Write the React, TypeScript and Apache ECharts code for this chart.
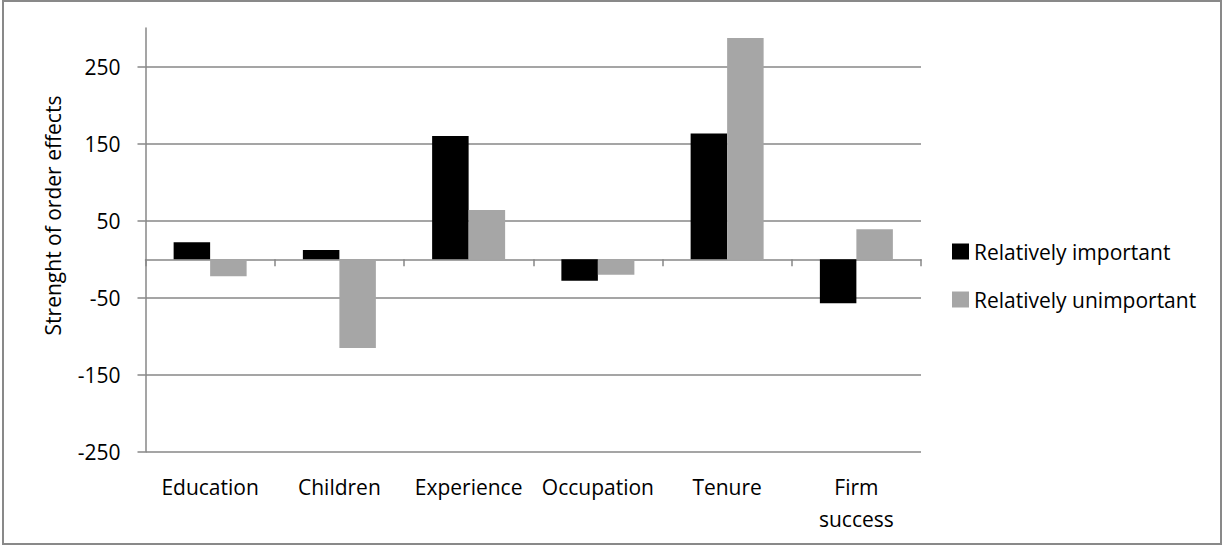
import React, { useEffect, useRef } from "react";
import * as echarts from "echarts";

const categories = ["Education", "Children", "Experience", "Occupation", "Tenure", "Firm success"];
const seriesNames = ["Relatively important", "Relatively unimportant"];
const importantValues = [22, 12, 160, -28, 163, -57];
const unimportantValues = [-22, -115, 64, -20, 287, 39];
const yTicks = [-250, -150, -50, 50, 150, 250];
const yMin = -250;
const yMax = 300;

const FONT = "Open Sans";
const GRID_COLOR = "#878787";

export default function App() {
  const ref = useRef<HTMLDivElement>(null);

  useEffect(() => {
    document.body.style.margin = "0";
    if (!ref.current) return;
    const chart = echarts.init(ref.current, undefined, { renderer: "svg" });
    chart.setOption({
      animation: false,
      textStyle: { fontFamily: FONT },
      grid: { left: 145.5, right: 301, top: 28, bottom: 94, containLabel: false },
      legend: {
        orient: "vertical",
        left: 952,
        top: 241,
        padding: 0,
        itemWidth: 17,
        itemHeight: 16,
        itemGap: 27,
        icon: "rect",
        textStyle: { fontFamily: FONT, fontSize: 21, color: "#000" },
        data: seriesNames,
      },
      xAxis: [
        {
          type: "category",
          data: categories,
          position: "bottom",
          axisLine: { show: true, onZero: true, lineStyle: { color: GRID_COLOR, width: 1.5 } },
          axisTick: { show: true, length: 7, alignWithLabel: false, interval: 0, lineStyle: { color: GRID_COLOR, width: 1.5 } },
          axisLabel: { show: false },
          splitLine: { show: false },
        },
        {
          type: "category",
          data: categories,
          position: "bottom",
          axisLine: { show: false, onZero: false },
          axisTick: { show: false },
          axisLabel: {
            show: true,
            interval: 0,
            fontFamily: FONT,
            fontSize: 21,
            color: "#000",
            margin: 19,
            lineHeight: 32,
            formatter: (v: string) => v.replace(" ", "\n"),
          },
          splitLine: { show: false },
        },
      ],
      yAxis: {
        type: "value",
        min: yMin,
        max: yMax,
        interval: 100,
        name: "Strenght of order effects",
        nameLocation: "middle",
        nameGap: 82,
        nameRotate: 90,
        nameTextStyle: { fontFamily: FONT, fontSize: 21, color: "#000", padding: [0, 0, 0, 49] },
        axisLine: { show: true, lineStyle: { color: GRID_COLOR, width: 1.5 } },
        axisTick: { show: true, length: 8, inside: false, customValues: yTicks, lineStyle: { color: GRID_COLOR, width: 1.5 } },
        axisLabel: { fontFamily: FONT, fontSize: 21, color: "#000", margin: 25, customValues: yTicks },
        splitLine: { show: true, lineStyle: { color: GRID_COLOR, width: 1.5 } },
      },
      series: [
        {
          name: seriesNames[0],
          type: "bar",
          data: importantValues,
          barWidth: 36.5,
          barGap: "0%",
          itemStyle: { color: "#000000" },
        },
        {
          name: seriesNames[1],
          type: "bar",
          data: unimportantValues,
          barWidth: 36.5,
          barGap: "0%",
          itemStyle: { color: "#A6A6A6" },
        },
      ],
      graphic: [
        {
          type: "rect",
          shape: { x: 3, y: 1, width: 1218, height: 543 },
          style: { fill: "none", stroke: "#898989", lineWidth: 2 },
          silent: true,
        },
      ],
    });
    return () => chart.dispose();
  }, []);

  return <div ref={ref} style={{ width: 1222, height: 546 }} />;
}
